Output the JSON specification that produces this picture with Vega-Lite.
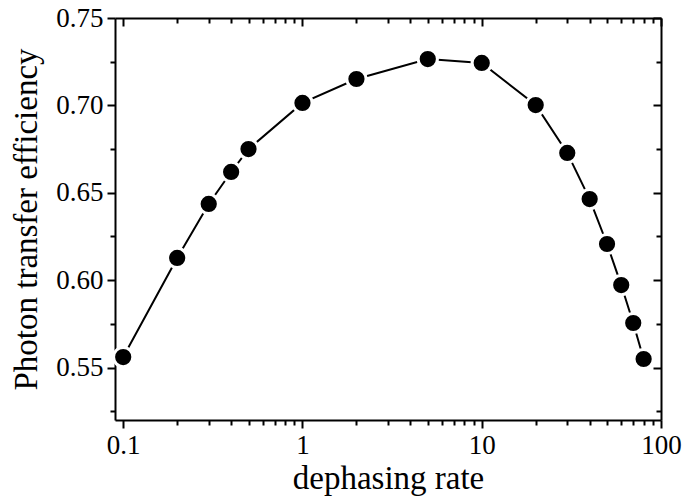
{
  "$schema": "https://vega.github.io/schema/vega-lite/v6.json",
  "width": 546,
  "height": 402,
  "autosize": "none",
  "padding": {"left": 115, "top": 18, "right": 35, "bottom": 80},
  "background": "white",
  "config": {
    "view": {"stroke": null},
    "font": "Liberation Serif",
    "axis": {
      "labelFont": "Liberation Serif",
      "titleFont": "Liberation Serif",
      "labelFontSize": 27,
      "titleFontSize": 33,
      "titleFontWeight": "normal",
      "labelColor": "black",
      "titleColor": "black",
      "domainColor": "black",
      "domainWidth": 2,
      "tickColor": "black",
      "tickWidth": 2,
      "grid": false
    }
  },
  "data": {
    "values": [
      {"rate": 0.1, "eff": 0.556},
      {"rate": 0.2, "eff": 0.6127},
      {"rate": 0.3, "eff": 0.6436},
      {"rate": 0.4, "eff": 0.6619},
      {"rate": 0.5, "eff": 0.675},
      {"rate": 1, "eff": 0.7014},
      {"rate": 2, "eff": 0.7151},
      {"rate": 5, "eff": 0.7265},
      {"rate": 10, "eff": 0.7243},
      {"rate": 20, "eff": 0.7002},
      {"rate": 30, "eff": 0.6728},
      {"rate": 40, "eff": 0.6464},
      {"rate": 50, "eff": 0.6207},
      {"rate": 60, "eff": 0.5972},
      {"rate": 70, "eff": 0.5755},
      {"rate": 80, "eff": 0.5549}
    ]
  },
  "layer": [
    {
      "mark": {"type": "line", "color": "black", "strokeWidth": 2},
      "encoding": {
        "x": {
          "field": "rate", "type": "quantitative",
          "scale": {"type": "log", "domain": [0.09, 100], "nice": false},
          "axis": {
            "orient": "bottom",
            "title": "dephasing rate",
            "titlePadding": 4,
            "values": [0.1,0.2,0.3,0.4,0.5,0.6,0.7,0.8,0.9,1,2,3,4,5,6,7,8,9,10,20,30,40,50,60,70,80,90,100],
            "labelExpr": "indexof([0.1,1,10,100], datum.value) >= 0 ? datum.label : ''",
            "tickSize": {"condition": {"test": "indexof([0.1,1,10,100], datum.value) >= 0", "value": 8}, "value": 5},
            "labelPadding": 4,
            "labelFlush": false,
            "labelOverlap": false
          }
        },
        "y": {
          "field": "eff", "type": "quantitative",
          "scale": {"domain": [0.52, 0.75], "nice": false, "zero": false},
          "axis": {
            "orient": "left",
            "title": "Photon transfer efficiency",
            "titlePadding": 12,
            "values": [0.525,0.55,0.575,0.6,0.625,0.65,0.675,0.7,0.725,0.75],
            "format": ".2f",
            "labelExpr": "indexof([0.55,0.6,0.65,0.7,0.75], datum.value) >= 0 ? datum.label : ''",
            "tickSize": {"condition": {"test": "indexof([0.55,0.6,0.65,0.7,0.75], datum.value) >= 0", "value": 8}, "value": 5},
            "labelPadding": 4,
            "labelFlush": false,
            "labelOverlap": false
          }
        }
      }
    },
    {
      "mark": {"type": "point", "filled": true, "fill": "black", "stroke": "white", "strokeWidth": 3, "size": 370, "opacity": 1, "fillOpacity": 1, "strokeOpacity": 1},
      "encoding": {
        "x": {
          "field": "rate", "type": "quantitative",
          "scale": {"type": "log", "domain": [0.09, 100], "nice": false},
          "axis": {
            "orient": "top",
            "title": null,
            "labels": false,
            "values": [0.1,0.2,0.3,0.4,0.5,0.6,0.7,0.8,0.9,1,2,3,4,5,6,7,8,9,10,20,30,40,50,60,70,80,90,100],
            "tickSize": {"condition": {"test": "indexof([0.1,1,10,100], datum.value) >= 0", "value": -8}, "value": -5}
          }
        },
        "y": {
          "field": "eff", "type": "quantitative",
          "scale": {"domain": [0.52, 0.75], "nice": false, "zero": false},
          "axis": {
            "orient": "right",
            "title": null,
            "labels": false,
            "values": [0.525,0.55,0.575,0.6,0.625,0.65,0.675,0.7,0.725,0.75],
            "tickSize": {"condition": {"test": "indexof([0.55,0.6,0.65,0.7,0.75], datum.value) >= 0", "value": -8}, "value": -5}
          }
        }
      }
    }
  ],
  "resolve": {"axis": {"x": "independent", "y": "independent"}}
}
